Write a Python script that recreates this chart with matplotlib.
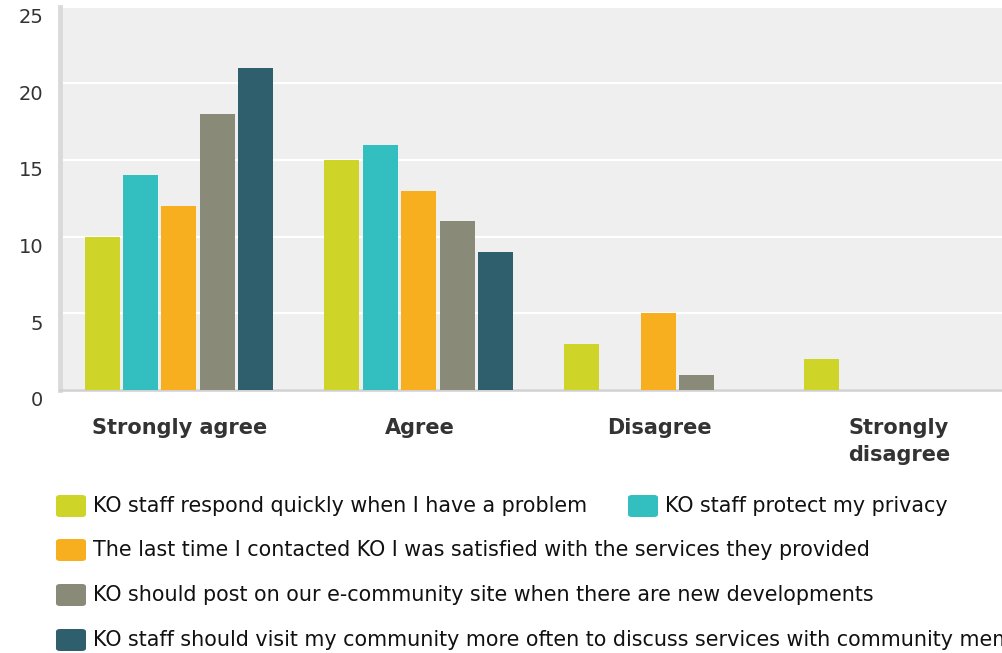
import matplotlib.pyplot as plt
import matplotlib.transforms as mtransforms
from matplotlib.patches import FancyBboxPatch
import numpy as np

plt.rcParams["font.family"] = ["DejaVu Sans"]

categories = ["Strongly agree", "Agree", "Disagree", "Strongly\ndisagree"]
series_names = [
    "KO staff respond quickly when I have a problem",
    "KO staff protect my privacy",
    "The last time I contacted KO I was satisfied with the services they provided",
    "KO should post on our e-community site when there are new developments",
    "KO staff should visit my community more often to discuss services with community members",
]
respond_quickly = [10, 15, 3, 2]
protect_privacy = [14, 16, 0, 0]
satisfied = [12, 13, 5, 0]
post_online = [18, 11, 1, 0]
visit_more = [21, 9, 0, 0]
values = [respond_quickly, protect_privacy, satisfied, post_online, visit_more]
colors = ["#cfd428", "#33bec0", "#f7af1f", "#8a8a78", "#2f5f6d"]
yticks = [0, 5, 10, 15, 20, 25]


def main():
    W, H = 1003, 653
    fig = plt.figure(figsize=(W / 100, H / 100), dpi=100)
    # axes runs past the right edge like the original cropped chart
    ax = fig.add_axes([60 / W, 1 - 390 / H, 959 / W, 383.5 / H])
    ax.set_facecolor("#efefef")

    x = np.arange(len(categories))
    step = 0.16
    for i, (vals, c) in enumerate(zip(values, colors)):
        ax.bar(x + (i - 2) * step - 0.004, vals, width=0.146, color=c, zorder=3)

    ax.set_xlim(-0.5, 3.5)
    ax.set_ylim(0, 25)
    ax.set_yticks(yticks)
    ax.grid(axis="y", color="white", linewidth=1.6, zorder=1)
    ax.set_axisbelow(True)

    for s in ["top", "right"]:
        ax.spines[s].set_visible(False)
    ax.spines["left"].set_color("#dadada")
    ax.spines["left"].set_linewidth(3.5)
    ax.spines["bottom"].set_color("#d0d0d0")
    ax.spines["bottom"].set_linewidth(1.8)

    ax.tick_params(axis="y", length=0, pad=12, labelsize=14, labelcolor="#333333")
    for lab in ax.get_yticklabels():
        lab.set_verticalalignment("top")
        lab.set_transform(lab.get_transform() + mtransforms.ScaledTranslation(0, -1 / 72, fig.dpi_scale_trans))

    ax.set_xticks(x)
    ax.set_xticklabels(categories, fontweight="bold", fontsize=15, color="#333333",
                       linespacing=1.45)
    ax.tick_params(axis="x", length=0, pad=20)

    # legend drawn by hand, flowing like the original (last entry runs off the edge as in the source)
    rows = [(0, 56, 506), (1, 628, 506), (2, 56, 550), (3, 56, 595), (4, 56, 640)]
    for idx, px, py in rows:
        box = FancyBboxPatch((px / W, 1 - (py + 11) / H), 30 / W, 22 / H,
                             boxstyle="round,pad=0,rounding_size=0.004",
                             transform=fig.transFigure, facecolor=colors[idx],
                             edgecolor="none")
        fig.patches.append(box)
        fig.text((px + 37) / W, 1 - py / H, series_names[idx], fontsize=14.9,
                 color="#111111", va="center", ha="left")

    fig.savefig("out.png", dpi=100)
    plt.close(fig)


if __name__ == "__main__":
    main()
